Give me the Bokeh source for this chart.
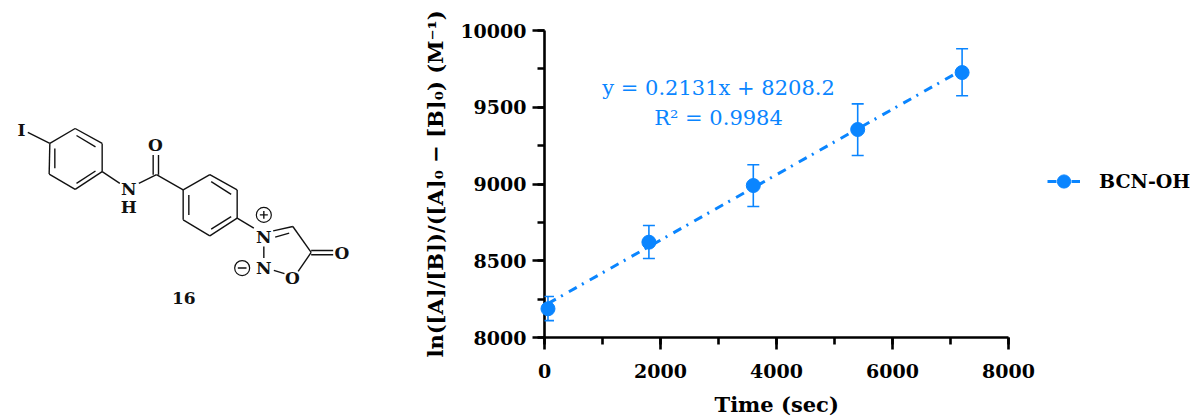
from bokeh.embed import file_html
from bokeh.resources import INLINE
from bokeh.plotting import figure
from bokeh.layouts import row
from bokeh.models import (ColumnDataSource, Whisker, TeeHead, Legend, LegendItem, Label, Title,
                          SingleIntervalTicker, Range1d)
from bokeh.core.properties import value

# ---------- chart data ----------
time_sec = [60, 1800, 3600, 5400, 7200]
values = [8187, 8621, 8990, 9355, 9726]
err_upper = [8267, 8730, 9125, 9522, 9881]
err_lower = [8110, 8515, 8853, 9186, 9575]
fit_x = [60, 7200]
fit_y = [8221, 9743]
series_name = "BCN-OH"
eq_lines = ["y = 0.2131x + 8208.2", "R² = 0.9984"]
x_title = "Time (sec)"
y_title = "ln([A]/[B])/([A]₀ − [B]₀) (M⁻¹)"

BLUE = "#0A85FF"
BOLD = "DejaVu Serif"
REG = "DejaVu Serif"

# ---------- structure drawing (reference-crop units: page x*3, (page y-100)*3) ----------
bonds = [
    (82,97,148,130),(148,130,224,85),(224,85,305,130),(305,130,305,215),(305,215,224,268),
    (224,268,146,222),(146,222,148,130),(228,106,285,140),(163,145,163,205),(228,250,285,213),
    (305,215,358,250),(415,250,468,224),(458,224,458,165),(474,224,474,165),
    (468,224,548,270),(548,270,628,224),(628,224,710,270),(710,270,710,355),(710,355,628,408),
    (628,408,548,360),(548,360,548,270),(632,245,692,283),(565,285,565,345),(632,388,692,350),
    (710,355,760,385),(818,393,877,380),(824,412,866,400),(877,380,932,458),
    (932,452,998,452),(932,465,998,465),(932,458,893,515),(820,512,852,522),(790,440,790,475),
    (778,345,802,345),(790,333,790,357),(712,505,738,505),
]
atoms = [("I",63,88),("O",465,135),("N",385,268),("H",385,322),("N",790,412),("O",1024,460),
         ("N",790,505),("O",876,535),("16",550,595)]
charges = [(790,345),(725,505)]

def px(v): return v / 3
def py(v): return 100 + v / 3

# The row lines this frame up with the chart's panels, so its y range covers the same page rows.
mol = figure(width=400, height=419, output_backend="svg", toolbar_location=None,
             x_range=Range1d(0, 400), y_range=Range1d(331, 30), min_border=0,
             outline_line_color=None, x_axis_location=None, y_axis_location=None)
mol.grid.visible = False
mol.segment([px(b[0]) for b in bonds], [py(b[1]) for b in bonds],
            [px(b[2]) for b in bonds], [py(b[3]) for b in bonds],
            line_color="#111111", line_width=1.4)
mol.scatter([px(c[0]) for c in charges], [py(c[1]) for c in charges], size=15,
            marker="circle", fill_color=None, line_color="#111111", line_width=1.2)
mol.text([px(a[1]) for a in atoms], [py(a[2]) for a in atoms], text=[a[0] for a in atoms],
         text_font=value(BOLD), text_font_style="bold", text_font_size="17px",
         text_align="center", text_baseline="middle", text_color="#111111")

# ---------- chart ----------
# The frame runs on to the right edge so that the legend sits inside it; the axis stops at 8000.
p = figure(width=799, height=419, output_backend="svg", toolbar_location=None,
           x_range=Range1d(0, 11293.1), y_range=Range1d(8000, 10000),
           min_border_left=144, min_border_right=0, min_border_top=30, min_border_bottom=82,
           frame_width=655, frame_height=307, outline_line_color=None)
p.grid.visible = False
p.xaxis[0].bounds = (0, 8000)

for ax, interval in ((p.xaxis[0], 2000), (p.yaxis[0], 500)):
    ax.ticker = SingleIntervalTicker(interval=interval, num_minor_ticks=2)
    ax.axis_line_width = 2.6
    ax.axis_line_color = "#000000"
    ax.major_tick_line_width = 2.6
    ax.minor_tick_line_width = 2.6
    ax.major_tick_line_color = "#000000"
    ax.minor_tick_line_color = "#000000"
    ax.major_tick_in = 0
    ax.minor_tick_in = 0
    ax.major_tick_out = 12
    ax.minor_tick_out = 7
    ax.major_label_text_font = BOLD
    ax.major_label_text_font_style = "bold"
    ax.major_label_text_font_size = "19px"
    ax.major_label_text_color = "#000000"
    ax.axis_label_text_font = BOLD
    ax.axis_label_text_font_style = "bold"
    ax.axis_label_text_font_size = "21px"
    ax.axis_label_text_color = "#000000"
p.yaxis[0].axis_label = y_title
p.xaxis[0].major_label_standoff = 14
p.yaxis[0].major_label_standoff = 6
p.yaxis[0].axis_label_standoff = 9

# x title placed as a title in the panel below, set over the 0-8000 axis span
p.add_layout(Title(text=x_title, align="left", offset=170, standoff=19, text_font=BOLD,
                   text_font_style="bold", text_font_size="21px", text_color="#000000"), "below")

src = ColumnDataSource(dict(x=time_sec, y=values, up=err_upper, lo=err_lower))
fit = p.line(fit_x, fit_y, line_color=BLUE, line_width=3, line_dash="9 6 2 7")
whisk = Whisker(source=src, base="x", upper="up", lower="lo", level="overlay",
                line_color=BLUE, line_width=1.6,
                upper_head=TeeHead(size=12, line_color=BLUE, line_width=1.6),
                lower_head=TeeHead(size=12, line_color=BLUE, line_width=1.6))
p.add_layout(whisk)
pts = p.scatter("x", "y", source=src, size=14, marker="circle", fill_color=BLUE,
                line_color=BLUE, level="overlay")

legend = Legend(items=[LegendItem(label=series_name, renderers=[fit, pts])],
                location=(503, 138), padding=0, margin=0, spacing=0,
                glyph_width=33, glyph_height=36, label_height=22, label_standoff=19,
                label_text_font=BOLD, label_text_font_style="bold", label_text_font_size="19px",
                label_text_color="#000000", border_line_color=None, background_fill_alpha=0)
p.add_layout(legend, "center")

for line, yv in zip(eq_lines, (9628, 9433)):
    p.add_layout(Label(x=3000, y=yv, text=line, text_font=REG, text_font_size="21px",
                       text_color=BLUE, text_align="center", text_baseline="middle"))

open("out.html", "w").write(file_html(row(mol, p, spacing=0), INLINE))
